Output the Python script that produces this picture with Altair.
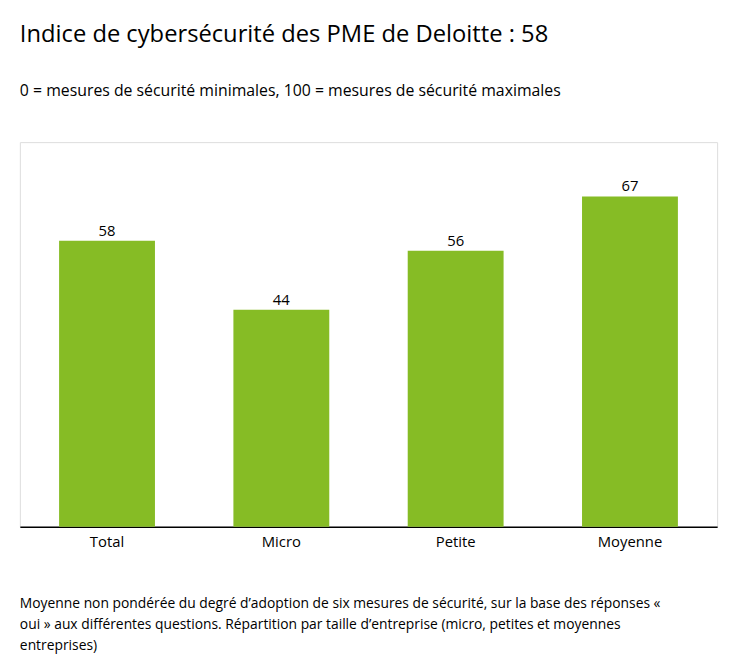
import altair as alt
import pandas as pd

categories = ["Total", "Micro", "Petite", "Moyenne"]
values = [58, 44, 56, 67]

title = "Indice de cybersécurité des PME de Deloitte : 58"
subtitle = "0 = mesures de sécurité minimales, 100 = mesures de sécurité maximales"
footer = [
    "Moyenne non pondérée du degré d’adoption de six mesures de sécurité, sur la base des réponses «",
    "oui » aux différentes questions. Répartition par taille d’entreprise (micro, petites et moyennes",
    "entreprises)",
]

df = pd.DataFrame({"cat": categories, "val": values})
font = "Open Sans"

x = alt.X("cat:N", sort=categories, title=None,
          scale=alt.Scale(paddingInner=0.45, paddingOuter=0.225),
          axis=alt.Axis(labelAngle=0, ticks=False, domainColor="#000000", domainWidth=1.5,
                        labelFontSize=15, labelColor="#000000", labelFont=font, labelPadding=8))
y = alt.Y("val:Q", title=None, scale=alt.Scale(domain=[0, 78], nice=False), axis=None)

base = alt.Chart(df)
bars = base.mark_bar(color="#86BC25").encode(x=x, y=y)
labels = base.mark_text(dy=-10, fontSize=15, font=font, color="#000000").encode(
    x=alt.X("cat:N", sort=categories), y=y, text="val:Q")

def text_layer(lines, y0, size, step):
    t = pd.DataFrame({"t": lines, "i": list(range(len(lines)))})
    return alt.Chart(t).mark_text(align="left", baseline="alphabetic", fontSize=size,
                                  font=font, color="#000000").encode(
        x=alt.value(0),
        y=alt.Y("i:Q", scale=alt.Scale(domain=[0, 1], range=[y0, y0 + step]), axis=None),
        text="t:N")

ttl = alt.Chart(pd.DataFrame({"t": [title]})).mark_text(
    align="left", fontSize=24, font=font, color="#000000").encode(
    x=alt.value(0), y=alt.value(-108), text="t:N")
sub = alt.Chart(pd.DataFrame({"t": [subtitle]})).mark_text(
    align="left", fontSize=16, font=font, color="#000000").encode(
    x=alt.value(0), y=alt.value(-52), text="t:N")
foot = text_layer(footer, 471, 14, 21.5)

chart = alt.layer(bars, labels, ttl, sub, foot).resolve_scale(y="independent").properties(
    width=705, height=389, autosize=alt.AutoSizeParams(type="none"),
    padding={"left": 12, "top": 132, "right": 11, "bottom": 133},
).configure_view(stroke=None).configure(background="#ffffff")

chart.save("out.html", embed_options={"renderer": "svg", "actions": False})
